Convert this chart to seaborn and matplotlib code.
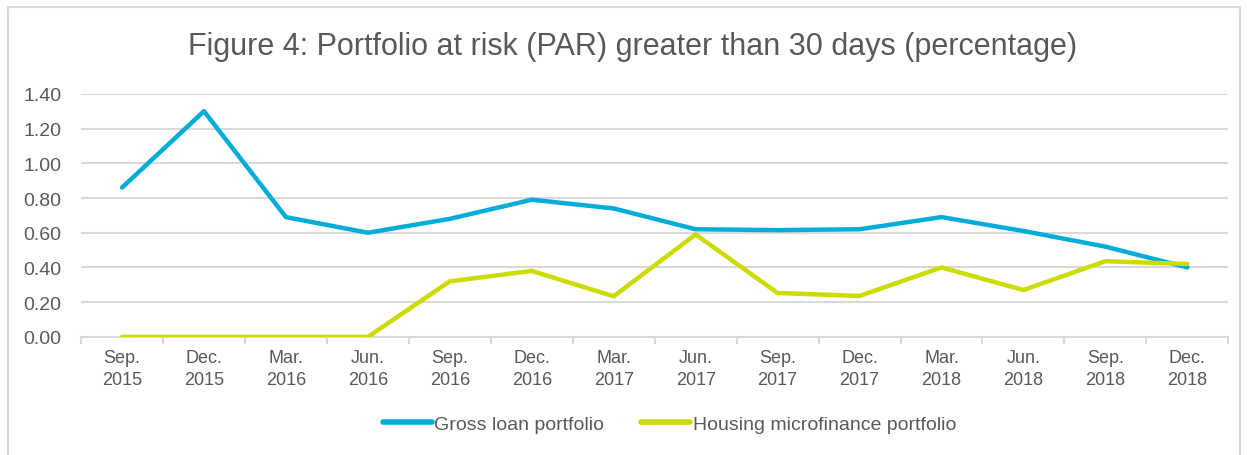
import pandas as pd
import matplotlib.pyplot as plt
import seaborn as sns
from matplotlib.patches import Rectangle
from matplotlib.ticker import MultipleLocator, FixedLocator

# Data
quarters = ['Sep.\n2015', 'Dec.\n2015', 'Mar.\n2016', 'Jun.\n2016', 'Sep.\n2016', 'Dec.\n2016',
            'Mar.\n2017', 'Jun.\n2017', 'Sep.\n2017', 'Dec.\n2017', 'Mar.\n2018', 'Jun.\n2018',
            'Sep.\n2018', 'Dec.\n2018']
gross_loan = [0.86, 1.30, 0.69, 0.60, 0.68, 0.79, 0.74, 0.62, 0.615, 0.62, 0.69, 0.61, 0.52, 0.40]
housing_micro = [0.00, 0.00, 0.00, 0.00, 0.32, 0.38, 0.234, 0.59, 0.253, 0.236, 0.40, 0.27, 0.436, 0.42]
series_names = ['Gross loan portfolio', 'Housing microfinance portfolio']

df = pd.DataFrame({
    'Quarter': quarters * 2,
    'PAR': gross_loan + housing_micro,
    'Series': [series_names[0]] * len(quarters) + [series_names[1]] * len(quarters),
})

palette = {series_names[0]: '#00ADD8', series_names[1]: '#CCDC00'}
text_color = '#595959'
grid_color = '#D9D9D9'

sns.set_theme(style="white")
plt.rcParams['font.family'] = ['Liberation Sans', 'DejaVu Sans']

fig = plt.figure(figsize=(12.47, 4.56), dpi=100)
ax = fig.add_axes([0.065, 0.259, 0.920, 0.533])

sns.lineplot(data=df, x='Quarter', y='PAR', hue='Series', palette=palette,
             sort=False, linewidth=3.2, ax=ax, zorder=3)

ax.set_xlim(-0.5, len(quarters) - 0.5)
ax.set_ylim(0, 1.4)
ax.yaxis.set_major_locator(MultipleLocator(0.2))
ax.yaxis.set_major_formatter(plt.FuncFormatter(lambda y, _: '{:.2f}'.format(y)))
ax.grid(axis='y', color=grid_color, linewidth=1.5, zorder=0)
ax.set_xlabel('')
ax.set_ylabel('')

for s in ['top', 'right', 'left']:
    ax.spines[s].set_visible(False)
ax.spines['bottom'].set_color(grid_color)
ax.spines['bottom'].set_linewidth(1.5)

# category-boundary tick marks, Excel style
ax.xaxis.set_minor_locator(FixedLocator([i - 0.5 for i in range(len(quarters) + 1)]))
ax.tick_params(axis='x', which='minor', length=5, width=1.5, color=grid_color, direction='out', bottom=True)
ax.tick_params(axis='x', which='major', length=0, pad=9, labelsize=13, labelcolor=text_color)
ax.tick_params(axis='y', length=0, pad=14, labelsize=14, labelcolor=text_color)
for lbl in ax.get_xticklabels():
    lbl.set_linespacing(1.35)

fig.suptitle('Figure 4: Portfolio at risk (PAR) greater than 30 days (percentage)',
             x=0.507, y=0.897, va='center', fontsize=22, color=text_color)

leg = ax.legend(loc='center', bbox_to_anchor=(0.513, -0.358), ncol=2, frameon=False,
                fontsize=14, handlelength=2.5, handletextpad=0.15, columnspacing=1.9)
for t in leg.get_texts():
    t.set_color(text_color)
for h in leg.get_lines():
    h.set_linewidth(4)
    h.set_solid_capstyle('round')

fig.patches.append(Rectangle((8 / 1247, -0.02), 1232 / 1247, 0.02 + 1 - 8 / 456,
                             transform=fig.transFigure, fill=False,
                             edgecolor=grid_color, linewidth=1.5))

fig.savefig('out.png', dpi=100)
